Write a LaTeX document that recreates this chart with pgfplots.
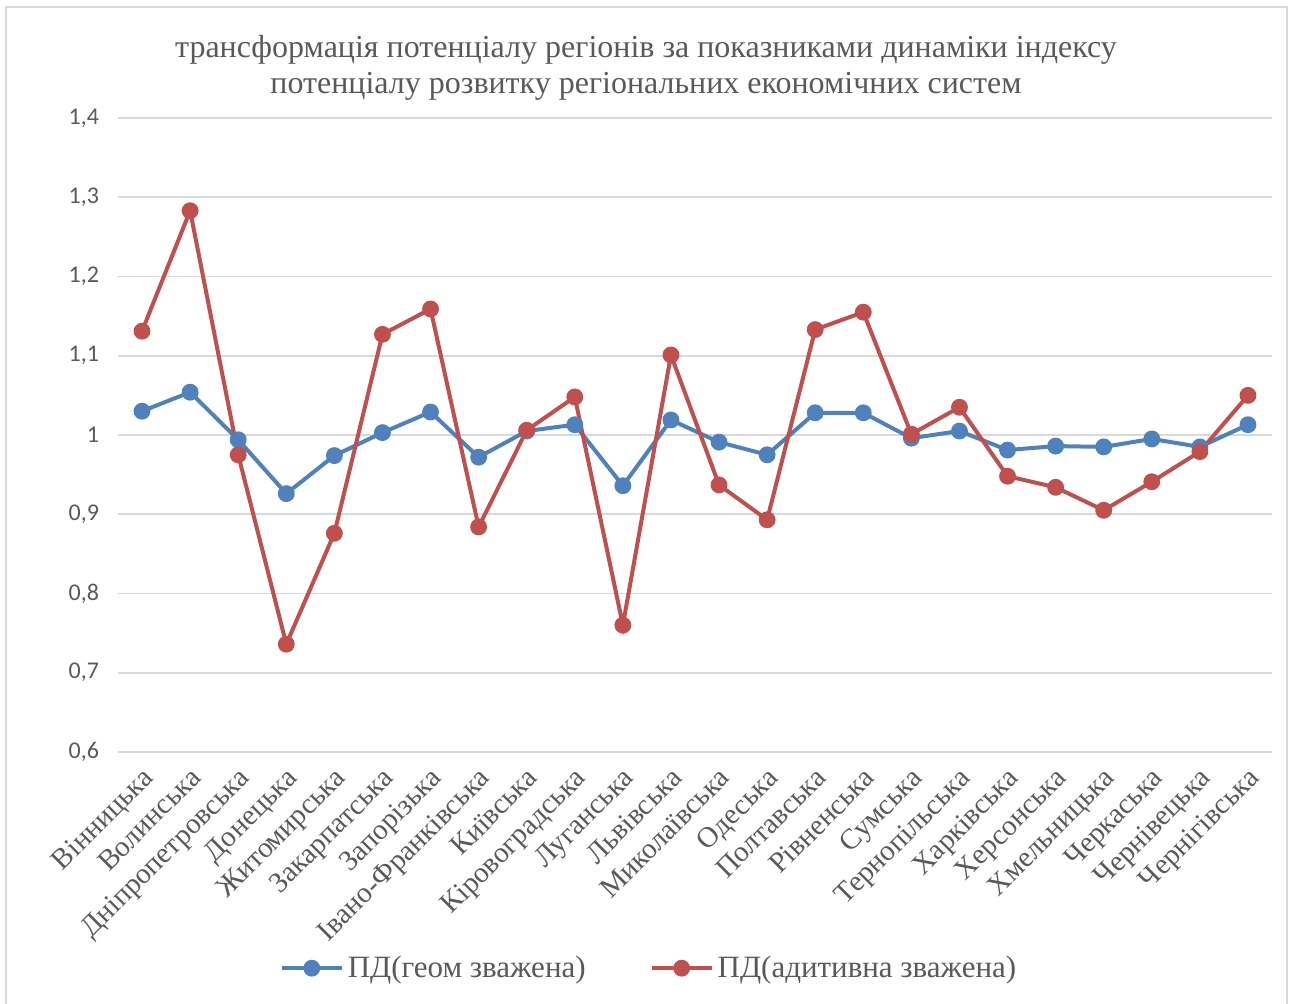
\documentclass[border=0pt]{standalone}
\usepackage{pgfplots}
\pgfplotsset{compat=1.18}
\usepackage{fontspec}
\setmainfont{Liberation Serif}
\newfontfamily\calibri{Carlito}
\definecolor{txtgray}{HTML}{595959}
\definecolor{gridgray}{HTML}{D9D9D9}
\definecolor{sblue}{HTML}{4F81BD}
\definecolor{sred}{HTML}{C0504D}
\begin{document}
\begin{tikzpicture}
\useasboundingbox (0,0) rectangle (645.5pt,502pt);
\draw[gridgray, line width=0.8pt] (3pt,-10pt) rectangle (643.5pt,498.5pt);
\node[txtgray, font=\fontsize{16}{18}\selectfont, align=center] at (323pt,468pt)
  {трансформація потенціалу регіонів за показниками динаміки індексу\\потенціалу розвитку регіональних економічних систем};
\begin{axis}[
  at={(59pt,126pt)}, anchor=south west,
  scale only axis, width=577pt, height=317pt,
  xmin=-0.5, xmax=23.5, ymin=0.6, ymax=1.4,
  xtick={0,...,23},
  xticklabels={Вінницька,Волинська,Дніпропетровська,Донецька,Житомирська,Закарпатська,Запорізька,Івано-Франківська,Київська,Кіровоградська,Луганська,Львівська,Миколаївська,Одеська,Полтавська,Рівненська,Сумська,Тернопільська,Харківська,Херсонська,Хмельницька,Черкаська,Чернівецька,Чернігівська},
  ytick={0.6,0.7,...,1.41},
  axis line style={draw=none},
  major tick style={draw=none},
  ymajorgrids, grid style={gridgray, line width=0.8pt},
  /pgf/number format/assume math mode=true,
  /pgf/number format/use comma, /pgf/number format/fixed, /pgf/number format/precision=1,
  yticklabel style={font=\calibri\fontsize{12}{14}\selectfont, text=txtgray, xshift=-6pt},
  xticklabel style={font=\fontsize{14.5}{17}\selectfont, text=txtgray, rotate=45, anchor=north east, xshift=-2pt, yshift=-1pt},
  legend style={draw=none, fill=none, at={(0.461,-0.341)}, anchor=center, legend columns=2,
    font=\fontsize{15.5}{18}\selectfont, text=txtgray,
    /tikz/every even column/.append style={column sep=30pt}},
  legend image code/.code={\draw[#1] (0pt,0pt) -- (30pt,0pt); \fill[#1] (15pt,0pt) circle (3.2pt);},
]
\addplot[sblue, line width=2pt, mark=*, mark size=3.2pt] coordinates {
(0,1.030) (1,1.054) (2,0.994) (3,0.926) (4,0.974) (5,1.003) (6,1.029) (7,0.972)
(8,1.005) (9,1.013) (10,0.936) (11,1.019) (12,0.991) (13,0.975) (14,1.028) (15,1.028)
(16,0.996) (17,1.005) (18,0.981) (19,0.986) (20,0.985) (21,0.995) (22,0.985) (23,1.013)};
\addlegendentry{ПД(геом зважена)}
\addplot[sred, line width=2pt, mark=*, mark size=3.2pt] coordinates {
(0,1.131) (1,1.283) (2,0.975) (3,0.736) (4,0.876) (5,1.127) (6,1.159) (7,0.884)
(8,1.006) (9,1.048) (10,0.760) (11,1.101) (12,0.937) (13,0.893) (14,1.133) (15,1.155)
(16,1.001) (17,1.035) (18,0.948) (19,0.934) (20,0.905) (21,0.941) (22,0.979) (23,1.050)};
\addlegendentry{ПД(адитивна зважена)}
\end{axis}
\end{tikzpicture}
\end{document}
